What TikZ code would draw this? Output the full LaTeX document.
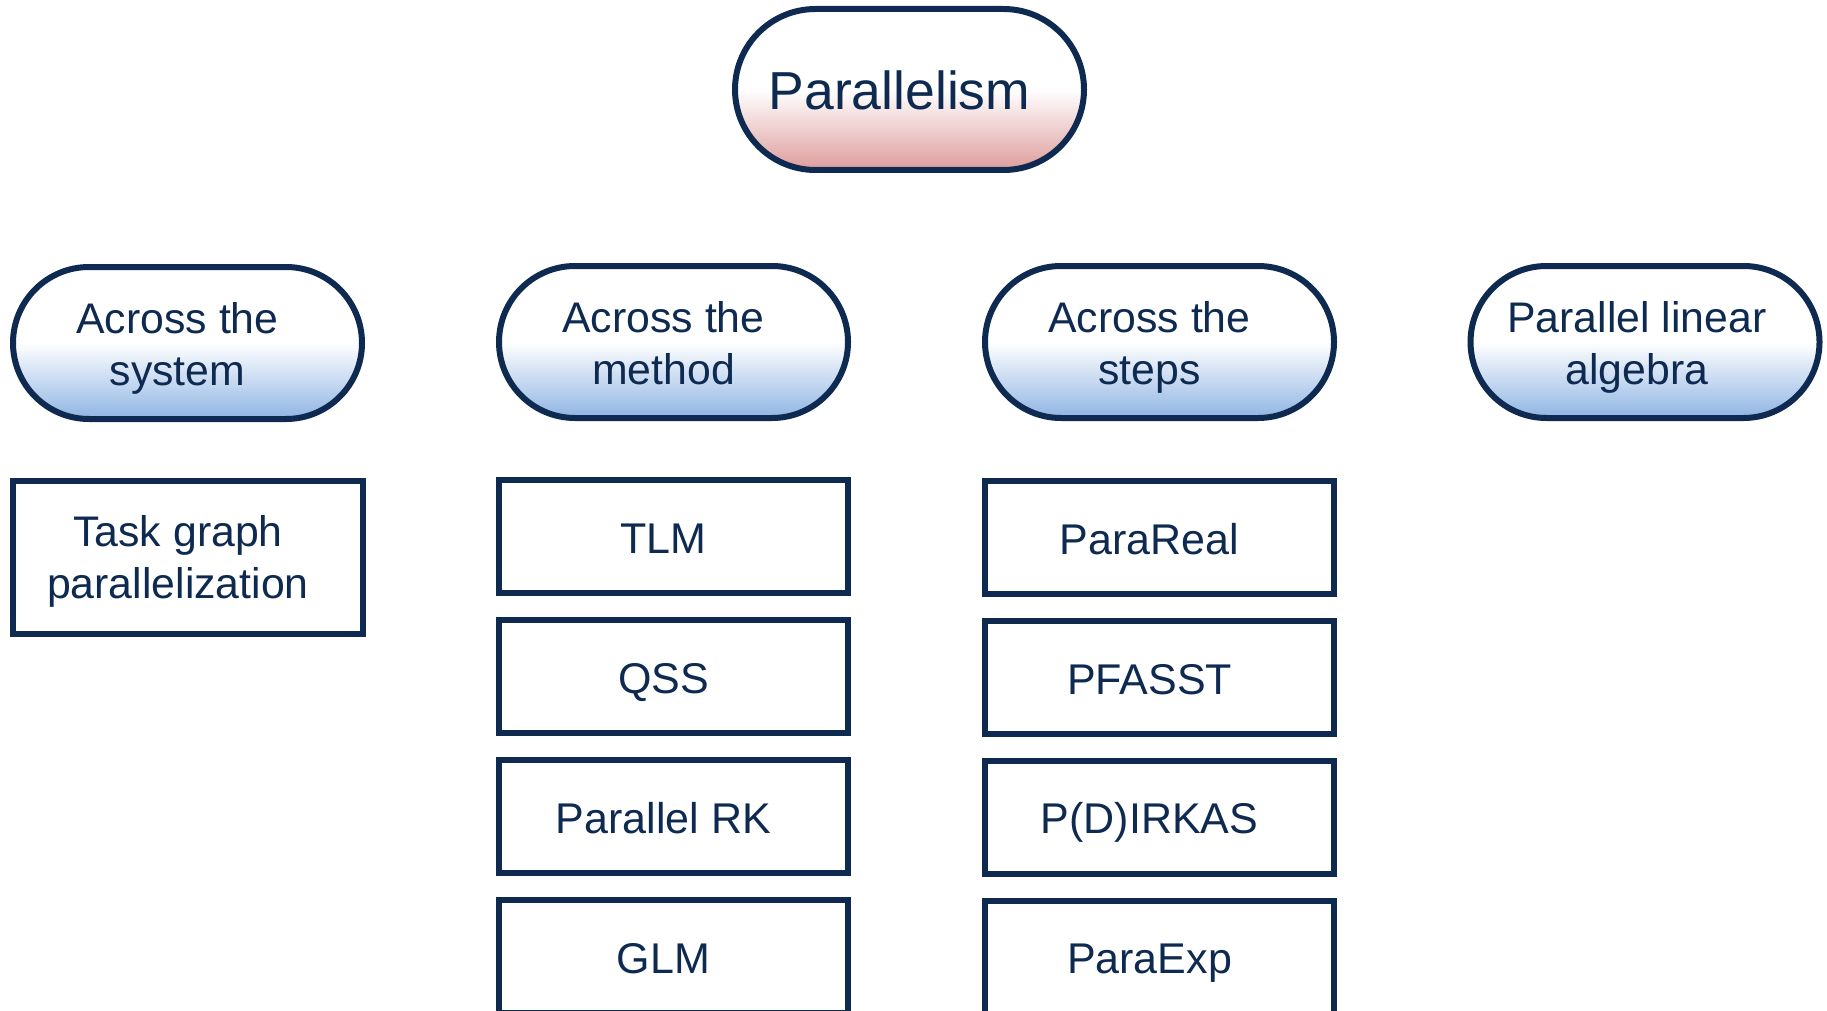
\documentclass[tikz,border=0pt]{standalone}
\usepackage{fontspec}
\setmainfont{Liberation Sans}
\begin{document}
\definecolor{navy}{RGB}{14,42,80}
\definecolor{rosebot}{RGB}{222,156,156}
\definecolor{bluebot}{RGB}{143,180,227}
\tikzset{
  x=1pt, y=-1pt,
  outline/.style={draw=navy, line width=6pt},
  rootpill/.style={outline, rectangle, rounded corners=80.5pt,
    minimum width=349pt, minimum height=161pt, inner sep=0pt,
    top color=white, bottom color=rosebot, middle color=white},
  catpill/.style={outline, rectangle, rounded corners=76pt,
    minimum width=349pt, minimum height=152pt, inner sep=0pt,
    top color=white, bottom color=bluebot, middle color=white},
  wideframe/.style={outline, rectangle, fill=white,
    minimum width=350pt, minimum height=153pt, inner sep=0pt},
  itemframe/.style={outline, rectangle, fill=white,
    minimum width=349pt, minimum height=113pt, inner sep=0pt},
  roottext/.style={text=navy, inner sep=0pt, anchor=base,
    font=\fontsize{53.5}{64}\selectfont},
  cattext/.style={text=navy, inner sep=0pt, align=center, anchor=base,
    font=\fontsize{42.8}{52}\selectfont},
  itemtext/.style={text=navy, inner sep=0pt, anchor=base,
    font=\fontsize{43}{52}\selectfont}
}
\begin{tikzpicture}
\useasboundingbox (0,0) rectangle (1827,1011);
\clip (0,0) rectangle (1827,1011);

% root
\node[rootpill] (root) at (909.5,89.5) {};
\node[roottext] (rootlbl) at ([xshift=-10pt,yshift=-20.5pt]root.center) {Parallelism};

% categories
\node[catpill] (sys) at (187.5,343) {};
\node[catpill] (meth) at (673.5,342) {};
\node[catpill] (steps) at (1159.5,342) {};
\node[catpill] (linalg) at (1645,342) {};
\node[cattext] (syslbl) at ([xshift=-10pt,yshift=-42pt]sys.center) {Across the\\system};
\node[cattext] (methlbl) at ([xshift=-10pt,yshift=-42pt]meth.center) {Across the\\method};
\node[cattext] (stepslbl) at ([xshift=-10pt,yshift=-42pt]steps.center) {Across the\\steps};
\node[cattext] (linalglbl) at ([xshift=-8pt,yshift=-42pt]linalg.center) {Parallel linear\\algebra};

% across the system
\node[wideframe] (task) at (188,557.5) {};
\node[cattext] (tasklbl) at ([xshift=-10pt,yshift=-41pt]task.center) {Task graph\\parallelization};

% across the method
\node[itemframe] (tlm) at (673.5,536.5) {};
\node[itemframe] (qss) at (673.5,676.5) {};
\node[itemframe] (prk) at (673.5,816.5) {};
\node[itemframe] (glm) at (673.5,956.5) {};
\node[itemtext] (tlmlbl) at ([xshift=-10pt,yshift=-17pt]tlm.center) {TLM};
\node[itemtext] (qsslbl) at ([xshift=-10pt,yshift=-17pt]qss.center) {QSS};
\node[itemtext] (prklbl) at ([xshift=-10pt,yshift=-17pt]prk.center) {Parallel RK};
\node[itemtext] (glmlbl) at ([xshift=-10pt,yshift=-17pt]glm.center) {GLM};

% across the steps
\node[itemframe] (preal) at (1159.5,537.5) {};
\node[itemframe] (pfasst) at (1159.5,677.5) {};
\node[itemframe] (pdirk) at (1159.5,817.5) {};
\node[itemframe] (pexp) at (1159.5,957.5) {};
\node[itemtext] (preallbl) at ([xshift=-10pt,yshift=-17pt]preal.center) {ParaReal};
\node[itemtext] (pfasstlbl) at ([xshift=-10pt,yshift=-17pt]pfasst.center) {PFASST};
\node[itemtext] (pdirklbl) at ([xshift=-10pt,yshift=-16pt]pdirk.center) {P(D)IRKAS};
\node[itemtext] (pexplbl) at ([xshift=-10pt,yshift=-16pt]pexp.center) {ParaExp};
\end{tikzpicture}
\end{document}
